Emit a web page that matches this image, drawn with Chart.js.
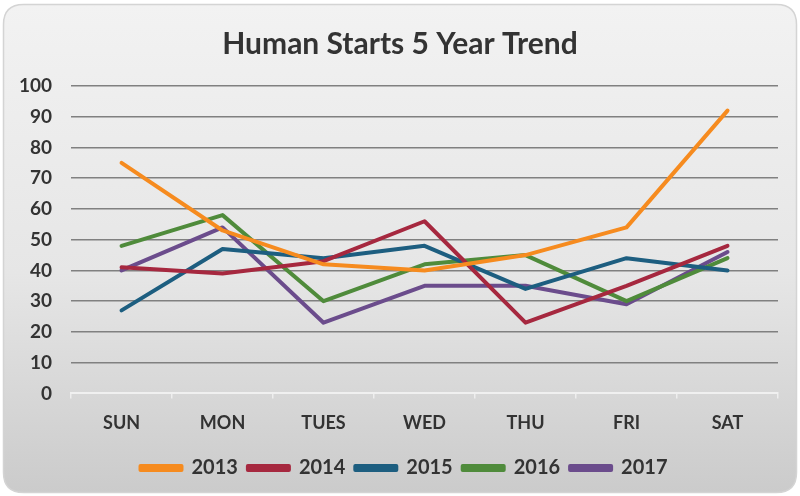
<!DOCTYPE html>
<html>
<head>
<meta charset="utf-8">
<script src="https://cdn.jsdelivr.net/npm/chart.js@4/dist/chart.umd.min.js"></script>
<style>
html,body{margin:0;padding:0;background:#ffffff;}
#wrap{width:800px;height:496px;position:relative;}
</style>
</head>
<body>
<div id="wrap"><canvas id="c" width="800" height="496"></canvas></div>
<script>
const categories = ["SUN", "MON", "TUES", "WED", "THU", "FRI", "SAT"];
const seriesNames = ["2013", "2014", "2015", "2016", "2017"];
const y2013 = [75, 53, 42, 40, 45, 54, 92];
const y2014 = [41, 39, 43, 56, 23, 35, 48];
const y2015 = [27, 47, 44, 48, 34, 44, 40];
const y2016 = [48, 58, 30, 42, 45, 30, 44];
const y2017 = [40, 54, 23, 35, 35, 29, 46];
const yTicks = [0, 10, 20, 30, 40, 50, 60, 70, 80, 90, 100];
const colors = ["#F68B1F", "#A6283F", "#1D5E80", "#4F8B3B", "#6B4C8C"];

const bgPlugin = {
  id: 'bg',
  beforeDraw(chart) {
    const ctx = chart.ctx;
    const x = 3.5, y = 4.5, w = 793, h = 488, r = 20;
    ctx.save();
    const g = ctx.createLinearGradient(0, y, 0, y + h);
    g.addColorStop(0, '#f2f2f2');
    g.addColorStop(0.55, '#e6e6e6');
    g.addColorStop(1, '#cbcbcb');
    ctx.beginPath();
    ctx.moveTo(x + r, y);
    ctx.lineTo(x + w - r, y);
    ctx.quadraticCurveTo(x + w, y, x + w, y + r);
    ctx.lineTo(x + w, y + h - r);
    ctx.quadraticCurveTo(x + w, y + h, x + w - r, y + h);
    ctx.lineTo(x + r, y + h);
    ctx.quadraticCurveTo(x, y + h, x, y + h - r);
    ctx.lineTo(x, y + r);
    ctx.quadraticCurveTo(x, y, x + r, y);
    ctx.closePath();
    ctx.fillStyle = g;
    ctx.fill();
    ctx.strokeStyle = '#d4d4d4';
    ctx.lineWidth = 1.5;
    ctx.stroke();
    ctx.restore();
  }
};

// nudge the legend slightly, as in the reference
const legendShift = {
  id: 'legendShift',
  afterLayout(chart) {
    if (chart.legend) {
      chart.legend.left += 4;
      chart.legend.right += 4;
    }
  }
};

const datasets = [y2013, y2014, y2015, y2016, y2017].map((d, i) => ({
  label: seriesNames[i],
  data: d,
  borderColor: colors[i],
  backgroundColor: colors[i],
  borderWidth: 4,
  pointRadius: 0,
  pointHoverRadius: 0,
  tension: 0,
  borderCapStyle: 'round',
  borderJoinStyle: 'round',
  fill: false
}));

new Chart(document.getElementById('c'), {
  type: 'line',
  data: { labels: categories, datasets: datasets },
  plugins: [bgPlugin, legendShift],
  options: {
    responsive: false,
    animation: false,
    events: [],
    layout: { padding: { left: 0, right: 0, top: 26, bottom: 8 } },
    plugins: {
      tooltip: { enabled: false },
      title: {
        display: true,
        text: 'Human Starts 5 Year Trend',
        color: '#333333',
        font: { family: 'Lato', size: 30, weight: 'bold' },
        padding: { top: 0, bottom: 24 }
      },
      legend: {
        position: 'bottom',
        labels: {
          boxWidth: 41,
          boxHeight: 4,
          padding: 10,
          color: '#333333',
          font: { family: 'Lato', size: 20, weight: 'bold' }
        }
      }
    },
    scales: {
      x: {
        offset: true,
        grid: {
          offset: true,
          drawOnChartArea: false,
          drawTicks: true,
          tickLength: 5,
          color: '#eeeeee',
          lineWidth: 1.5
        },
        border: { color: '#f0f0f0', width: 2 },
        ticks: {
          color: '#333333',
          font: { family: 'Lato', size: 18, weight: 'bold' },
          padding: 14
        }
      },
      y: {
        min: 0,
        max: 100,
        afterBuildTicks(axis) { axis.ticks = yTicks.map(v => ({ value: v })); },
        grid: {
          drawTicks: false,
          color: (c) => c.tick && c.tick.value === 0 ? 'rgba(0,0,0,0)' : '#808080',
          lineWidth: 1.5
        },
        border: { display: false },
        ticks: {
          color: '#333333',
          font: { family: 'Lato', size: 19, weight: 'bold' },
          padding: 19
        }
      },
      yRight: {
        position: 'right',
        display: true,
        grid: { display: false, drawTicks: false },
        border: { display: false },
        ticks: { display: false },
        afterFit(scale) { scale.width = 22; }
      }
    }
  }
});
</script>
</body>
</html>
